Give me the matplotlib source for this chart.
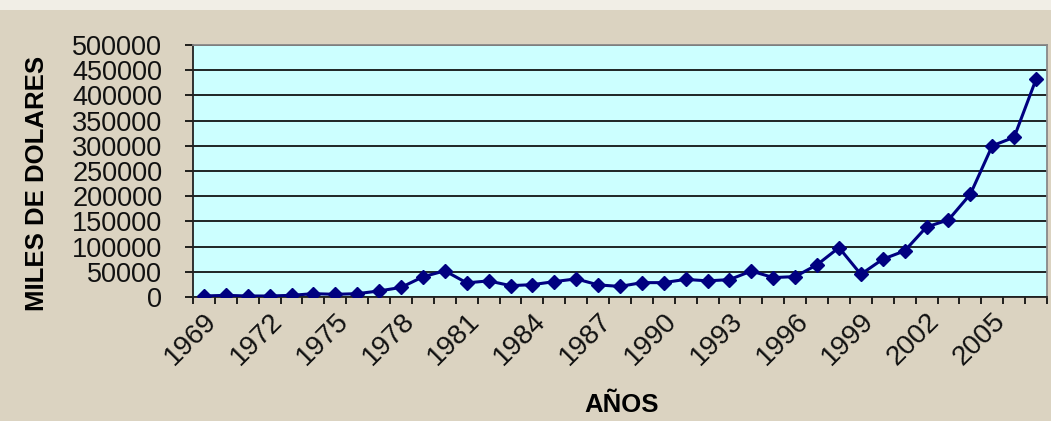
import matplotlib
matplotlib.use("Agg")
import matplotlib.pyplot as plt
import matplotlib.transforms as mtransforms
from matplotlib.patches import Rectangle
from matplotlib.ticker import FixedLocator, NullFormatter

years = list(range(1969, 2008))
values = [
    2000, 3300, 2000, 2000, 3300, 6600, 5300, 6600, 12000, 19000,
    40000, 52000, 28000, 32000, 22500, 24500, 30500, 36000, 24000, 21000,
    28500, 28500, 35000, 32000, 34500, 51500, 38500, 40500, 64000, 98000,
    45000, 75000, 91500, 139000, 153000, 204000, 300000, 317000, 432000,
]
label_years = list(range(1969, 2008, 3))
y_ticks = list(range(0, 500001, 50000))

plt.rcParams['font.family'] = ['Liberation Sans', 'DejaVu Sans']

fig = plt.figure(figsize=(10.51, 4.21), dpi=100)
fig.patch.set_facecolor('#dbd3c1')
fig.patches.append(Rectangle((0, 1 - 10 / 421), 1, 10 / 421, transform=fig.transFigure,
                             facecolor='#f1eee6', edgecolor='none', zorder=0))

ax = fig.add_axes([193 / 1051, 1 - 297 / 421, (1047 - 193) / 1051, (297 - 45) / 421])
ax.set_facecolor('#ccffff')

ax.plot(years, values, color='#000080', linewidth=2.2, marker='D', markersize=7,
        markerfacecolor='#000080', markeredgecolor='#000080', zorder=3)

ax.set_xlim(years[0] - 0.5, years[-1] + 0.5)
ax.set_ylim(0, 500000)

ax.set_yticks(y_ticks)
ax.set_yticklabels([str(v) for v in y_ticks], fontsize=19.5, color='#111111')
ax.yaxis.grid(True, color='black', linewidth=1.2)
ax.set_axisbelow(True)

# ticks at category boundaries, labels every three years
ax.xaxis.set_minor_locator(FixedLocator([y - 0.5 for y in years] + [years[-1] + 0.5]))
ax.xaxis.set_minor_formatter(NullFormatter())
ax.set_xticks(label_years)
ax.set_xticklabels([str(y) for y in label_years], fontsize=20, rotation=45,
                   ha='right', va='top', rotation_mode='anchor', color='#111111')
shift = mtransforms.ScaledTranslation(-10 / 100, 0, fig.dpi_scale_trans)
for lbl in ax.get_xticklabels():
    lbl.set_transform(lbl.get_transform() + shift)
ax.tick_params(axis='x', which='major', length=0, pad=8)
ax.tick_params(axis='x', which='minor', length=5, width=1.2, direction='out')
ax.tick_params(axis='y', length=6, width=1.2, direction='out', pad=16)

ax.spines['left'].set_color('#222222')
ax.spines['bottom'].set_color('#222222')
ax.spines['top'].set_color('#888888')
ax.spines['right'].set_color('#888888')
for s in ax.spines.values():
    s.set_linewidth(1.3)

fig.text(37 / 1051, 1 - 183 / 421, 'MILES DE DOLARES', rotation=90, fontsize=18.5,
         fontweight='bold', ha='center', va='center')
fig.text(622 / 1051, 1 - 405 / 421, 'AÑOS', fontsize=18.5, fontweight='bold',
         ha='center', va='center')

fig.savefig('out.png', dpi=100, facecolor=fig.get_facecolor())
